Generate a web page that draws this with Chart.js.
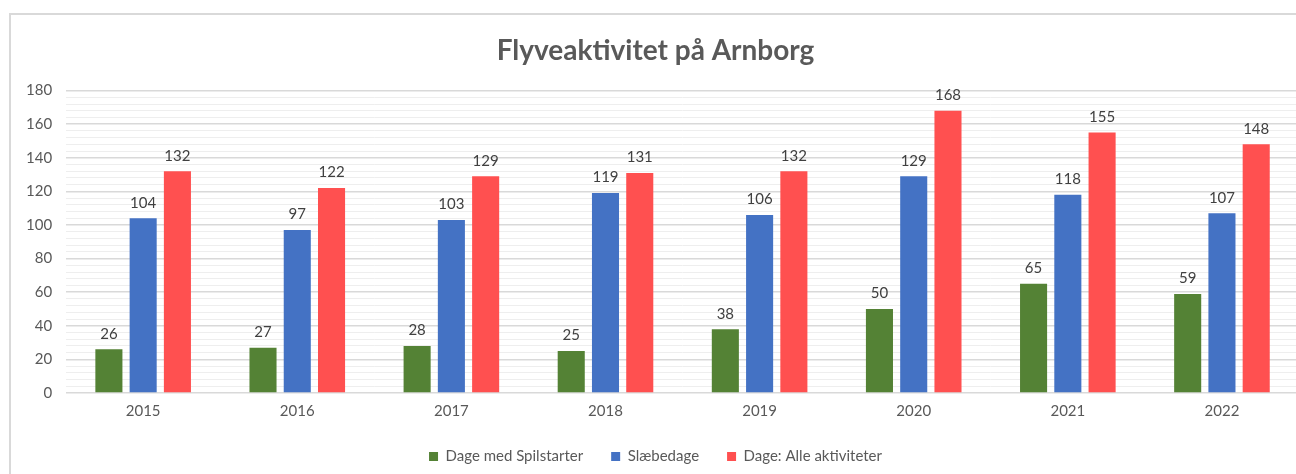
<!DOCTYPE html>
<html><head><meta charset="utf-8">
<script src="https://cdn.jsdelivr.net/npm/chart.js@4/dist/chart.umd.min.js"></script>
<style>
html,body{margin:0;padding:0;background:#fff;overflow:hidden;width:1296px;height:474px;}
#box{position:absolute;left:9px;top:13px;width:1310px;height:500px;border:2px solid #d9d9d9;box-sizing:border-box;}
#c{position:absolute;left:11px;top:15px;}
</style></head><body>
<div id="box"></div>
<canvas id="c" width="1296" height="459"></canvas>
<script>
const categories = ["2015","2016","2017","2018","2019","2020","2021","2022"];
const spilstarter = [26,27,28,25,38,50,65,59];
const slaebedage = [104,97,103,119,106,129,118,107];
const alleAktiviteter = [132,122,129,131,132,168,155,148];
const seriesNames = ["Dage med Spilstarter","Slæbedage","Dage: Alle aktiviteter"];
const chartTitle = "Flyveaktivitet på Arnborg";

const labelPlugin = {
  id:'barLabels',
  afterDatasetsDraw(chart){
    const ctx = chart.ctx;
    ctx.save();
    ctx.font = '15px Lato';
    ctx.fillStyle = '#404040';
    ctx.textAlign = 'center';
    ctx.textBaseline = 'bottom';
    chart.data.datasets.forEach((ds,i)=>{
      chart.getDatasetMeta(i).data.forEach((bar,j)=>{
        ctx.fillText(String(ds.data[j]), bar.x, bar.y - 8);
      });
    });
    ctx.restore();
  }
};

new Chart(document.getElementById('c'), {
  type:'bar',
  data:{
    labels:categories,
    datasets:[
      {label:seriesNames[0], data:spilstarter, backgroundColor:'#548235'},
      {label:seriesNames[1], data:slaebedage, backgroundColor:'#4472C4'},
      {label:seriesNames[2], data:alleAktiviteter, backgroundColor:'#FF5050'}
    ]
  },
  options:{
    responsive:false,
    animation:false,
    devicePixelRatio:1,
    categoryPercentage:0.667,
    barPercentage:0.79,
    layout:{padding:{left:1,right:8,top:0,bottom:0}},
    plugins:{
      title:{display:true,text:chartTitle,color:'#595959',font:{family:'Lato',size:28,weight:'bold'},padding:{top:19,bottom:23}},
      legend:{position:'bottom',labels:{boxWidth:9,boxHeight:9,color:'#595959',font:{family:'Lato',size:15},padding:28}},
      tooltip:{enabled:false}
    },
    scales:{
      x:{grid:{display:false},border:{display:false},ticks:{color:'#595959',font:{family:'Lato',size:15},padding:1}},
      y:{min:0,max:180,
        border:{display:false},
        grid:{color:(c)=> (c.tick && c.tick.value%20===0) ? '#d9d9d9' : '#eeeeee', lineWidth:(c)=> (c.tick && c.tick.value%20===0)?1.5:1, drawTicks:false},
        ticks:{stepSize:4,autoSkip:false,color:'#595959',font:{family:'Lato',size:15},padding:14,
          callback:(v)=> v%20===0 ? String(v) : ''}
      }
    }
  },
  plugins:[labelPlugin]
});
</script>
</body></html>
